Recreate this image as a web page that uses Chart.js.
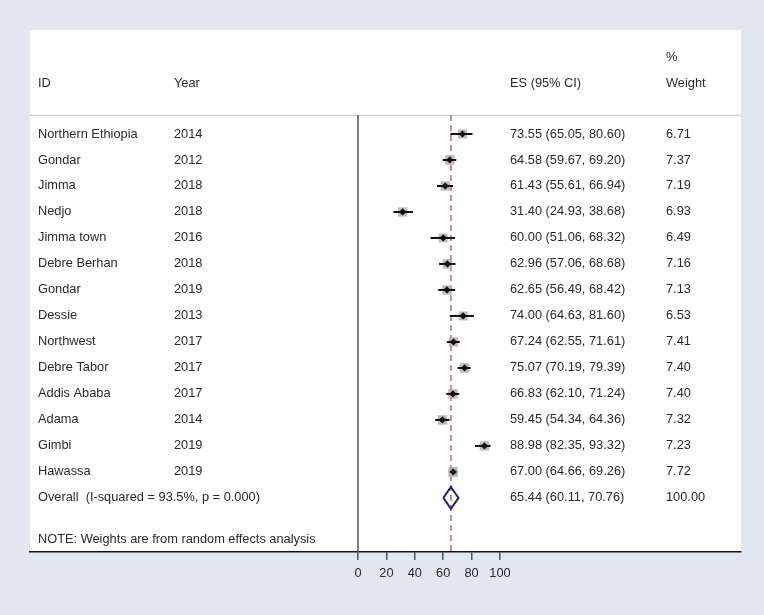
<!DOCTYPE html>
<html><head><meta charset="utf-8">
<script src="https://cdn.jsdelivr.net/npm/chart.js@4.4.0/dist/chart.umd.min.js"></script>
<style>html,body{margin:0;padding:0;background:#e1e7f1;}#wrap{width:764px;height:615px;}</style>
</head><body><div id="wrap"><canvas id="c" width="764" height="615"></canvas></div>
<script>
const studies = ["Northern Ethiopia","Gondar","Jimma","Nedjo","Jimma town","Debre Berhan","Gondar","Dessie","Northwest","Debre Tabor","Addis Ababa","Adama","Gimbi","Hawassa"];
const years = ["2014","2012","2018","2018","2016","2018","2019","2013","2017","2017","2017","2014","2019","2019"];
const es = [73.55,64.58,61.43,31.40,60.00,62.96,62.65,74.00,67.24,75.07,66.83,59.45,88.98,67.00];
const lo = [65.05,59.67,55.61,24.93,51.06,57.06,56.49,64.63,62.55,70.19,62.10,54.34,82.35,64.66];
const hi = [80.60,69.20,66.94,38.68,68.32,68.68,68.42,81.60,71.61,79.39,71.24,64.36,93.32,69.26];
const weights = [6.71,7.37,7.19,6.93,6.49,7.16,7.13,6.53,7.41,7.40,7.40,7.32,7.23,7.72];
const overall = {label:"Overall  (I-squared = 93.5%, p = 0.000)", es:65.44, lo:60.11, hi:70.76, weight:"100.00"};
const xTicks = [0,20,40,60,80,100];
const note = "NOTE: Weights are from random effects analysis";

const FONT = '12.8px "Liberation Sans", Arial, sans-serif';
const TXT = '#2a2a2a';
const fmt = v => v.toFixed(2);
const overallRow = studies.length;
const headerLineY = -0.73;
const bottomY = 16.08;

const datasets = [];
datasets.push({type:'line', data:[{x:0,y:headerLineY},{x:0,y:bottomY}], borderColor:'#555', borderWidth:1.5, pointRadius:0, order:5});
datasets.push({type:'line', data:[{x:overall.es,y:headerLineY},{x:overall.es,y:bottomY}], borderColor:'#c27282', borderWidth:1.6, borderDash:[6,4], pointRadius:0, order:4});
datasets.push({type:'scatter', data:es.map((v,i)=>({x:v,y:i})), pointStyle:'rect', pointRadius:weights.map(w=>6.9*Math.sqrt(w/7.72)), backgroundColor:'rgba(178,178,178,0.85)', borderWidth:0, order:3});
studies.forEach((s,i)=>{
  datasets.push({type:'line', data:[{x:lo[i],y:i},{x:hi[i],y:i}], borderColor:'#111', borderWidth:2, pointRadius:0, order:2});
});
datasets.push({type:'scatter', data:es.map((v,i)=>({x:v,y:i})), pointStyle:'rectRot', pointRadius:3.6, backgroundColor:'#111', borderColor:'#111', borderWidth:0, order:1});
datasets.push({type:'line', data:[{x:overall.lo,y:overallRow},{x:overall.es,y:overallRow-0.42},{x:overall.hi,y:overallRow},{x:overall.es,y:overallRow+0.42},{x:overall.lo,y:overallRow}], borderColor:'#23237a', borderWidth:2, pointRadius:0, fill:false, order:1});

const panelPlugin = {
  id:'panel',
  beforeDraw(chart){
    const {ctx, chartArea:a} = chart;
    ctx.save();
    ctx.fillStyle='#e1e7f1'; ctx.fillRect(0,0,chart.width,chart.height);
    ctx.fillStyle='#fff'; ctx.fillRect(a.left,a.top,a.right-a.left,a.bottom-a.top);
    const y = chart.scales.y;
    ctx.strokeStyle='#cfcfcf'; ctx.lineWidth=1.5;
    const hy = Math.round(y.getPixelForValue(headerLineY))+0.5;
    ctx.beginPath(); ctx.moveTo(a.left,hy); ctx.lineTo(a.right,hy); ctx.stroke();
    ctx.restore();
  },
  afterDatasetsDraw(chart){
    const {ctx} = chart;
    const y = chart.scales.y;
    ctx.save();
    ctx.font = FONT; ctx.fillStyle = TXT; ctx.textBaseline='middle'; ctx.textAlign='left';
    const colID=38, colYear=174, colES=510, colW=666;
    ctx.fillText('%', colW, y.getPixelForValue(-2.96));
    const hr = y.getPixelForValue(-1.96);
    ctx.fillText('ID', colID, hr); ctx.fillText('Year', colYear, hr);
    ctx.fillText('ES (95% CI)', colES, hr); ctx.fillText('Weight', colW, hr);
    studies.forEach((s,i)=>{
      const py = y.getPixelForValue(i);
      ctx.fillText(s, colID, py); ctx.fillText(years[i], colYear, py);
      ctx.fillText(`${fmt(es[i])} (${fmt(lo[i])}, ${fmt(hi[i])})`, colES, py);
      ctx.fillText(fmt(weights[i]), colW, py);
    });
    const oy = y.getPixelForValue(overallRow);
    ctx.fillText(overall.label, colID, oy);
    ctx.fillText(`${fmt(overall.es)} (${fmt(overall.lo)}, ${fmt(overall.hi)})`, colES, oy);
    ctx.fillText(overall.weight, colW, oy);
    ctx.fillText(note, colID, y.getPixelForValue(15.58));
    ctx.restore();
  }
};

new Chart(document.getElementById('c'), {
  data:{datasets},
  options:{
    responsive:false, animation:false, events:[],
    layout:{padding:{left:30, top:30, right:23, bottom:0}},
    plugins:{legend:{display:false}, tooltip:{enabled:false}},
    scales:{
      x:{type:'linear', min:-231, max:269.7,
        afterBuildTicks:s=>{ s.ticks = xTicks.map(v=>({value:v})); },
        afterFit:s=>{ s.height = 63; },
        border:{display:true, color:'#111', width:1.5},
        grid:{drawOnChartArea:false, drawTicks:true, tickLength:8, color:'#555', lineWidth:1.5},
        ticks:{color:TXT, font:{family:'"Liberation Sans", Arial, sans-serif', size:12.8}, padding:6, maxRotation:0, autoSkip:false}
      },
      y:{type:'linear', reverse:true, min:-4, max:bottomY, display:false}
    }
  },
  plugins:[panelPlugin]
});
</script></body></html>
